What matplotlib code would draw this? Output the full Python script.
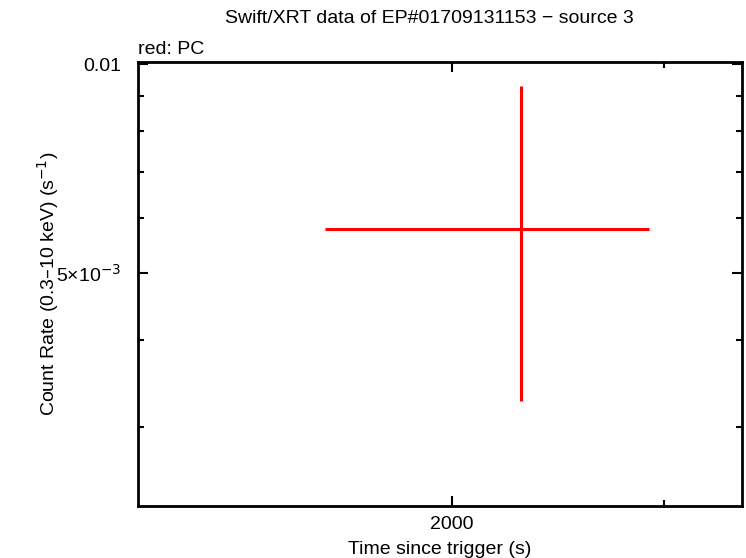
import matplotlib
matplotlib.use('Agg')
import matplotlib.pyplot as plt
from matplotlib.ticker import FixedLocator, NullFormatter

plt.rcParams['font.family'] = ['Liberation Sans', 'DejaVu Sans']

# PC mode data point (time with bin edges, rate with errors)
t_mid = [2282]
t_lo = [1568]
t_hi = [2917]
rate = [0.00578]
rate_lo = [0.003273]
rate_hi = [0.00929]

xmajor = [2000]
xminor = [3000]
ymajor = [0.005, 0.01]
ylabels = ['5×10$^{-3}$', '0.01']
yminor = [0.003, 0.004, 0.006, 0.007, 0.008, 0.009]

fig = plt.figure(figsize=(7.46, 5.58), dpi=100)
ax = fig.add_axes([0.185, 0.0932, 0.8096, 0.7957])

xerr = [[m - l for m, l in zip(t_mid, t_lo)], [h - m for m, h in zip(t_mid, t_hi)]]
yerr = [[r - l for r, l in zip(rate, rate_lo)], [h - r for r, h in zip(rate, rate_hi)]]
ax.errorbar(t_mid, rate, xerr=xerr, yerr=yerr, fmt='none', ecolor='red', elinewidth=2.2, capsize=0)

ax.set_xscale('log')
ax.set_yscale('log')
ax.set_xlim(1096, 3484)
ax.set_ylim(0.002307, 0.01007)

ax.xaxis.set_major_locator(FixedLocator(xmajor))
ax.xaxis.set_minor_locator(FixedLocator(xminor))
ax.set_xticklabels(['2000'])
ax.xaxis.set_minor_formatter(NullFormatter())
ax.yaxis.set_major_locator(FixedLocator(ymajor))
ax.set_yticklabels(ylabels)
ax.yaxis.set_minor_locator(FixedLocator(yminor))
ax.yaxis.set_minor_formatter(NullFormatter())

ax.tick_params(which='both', direction='in', top=True, right=True, width=1.5, labelsize=14)
ax.tick_params(which='major', length=7)
ax.tick_params(axis='y', which='major', pad=12)
ax.tick_params(axis='x', which='major', pad=7)
ax.tick_params(which='minor', length=4)
for s in ax.spines.values():
    s.set_linewidth(2)

ax.set_xlabel('Time since trigger (s)', fontsize=14, labelpad=6)
ax.set_ylabel('Count Rate (0.3–10 keV) (s$^{-1}$)', fontsize=14)
ax.yaxis.set_label_coords(-0.128, 0.5)
fig.text(0.575, 0.966, 'Swift/XRT data of EP#01709131153 − source 3', ha='center', va='center', fontsize=14)
ax.text(0.0, 1.01, 'red: PC', transform=ax.transAxes, ha='left', va='bottom', fontsize=14)

fig.savefig('out.png', dpi=100)
